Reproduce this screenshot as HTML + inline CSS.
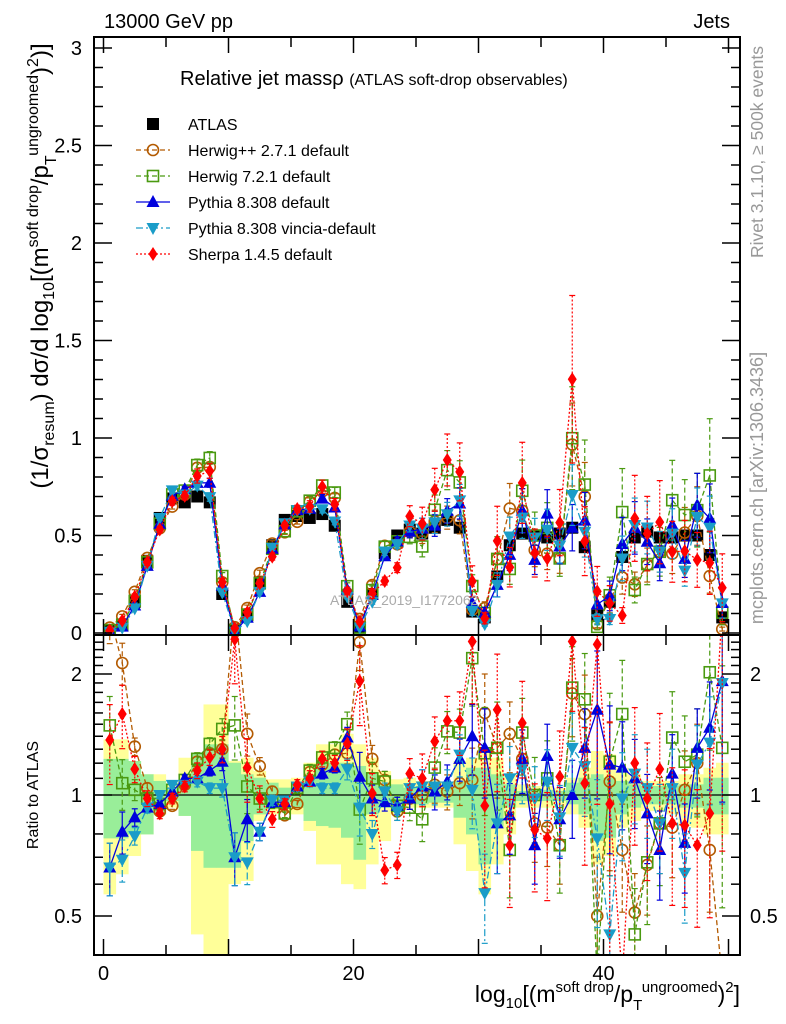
<!DOCTYPE html>
<html><head><meta charset="utf-8"><style>
html,body{margin:0;background:#fff;width:786px;height:1024px;overflow:hidden;}
svg{display:block;font-family:"Liberation Sans",sans-serif;}
</style></head><body>
<svg id="chart" width="786" height="1024" viewBox="0 0 786 1024" overflow="hidden">
<defs>
<clipPath id="cm"><rect x="94" y="37" width="646" height="598"/></clipPath>
<clipPath id="cr"><rect x="94" y="635" width="646" height="320"/></clipPath>
</defs>
<g id="bands" clip-path="url(#cr)"></g>
<g id="ratioMarks" clip-path="url(#cr)"></g>
<g id="mainMarks" clip-path="url(#cm)"></g>
<text x="330" y="605" font-size="14" fill="#aaa">ATLAS_2019_I1772062</text>
<g id="axes"></g>
<text x="104" y="28" font-size="20">13000 GeV pp</text>
<text x="730" y="28" font-size="20" text-anchor="end">Jets</text>
<text x="180" y="85" font-size="20">Relative jet massρ <tspan font-size="16">(ATLAS soft-drop observables)</tspan></text>
<g id="legend"></g>
<text transform="translate(763,152) rotate(-90)" font-size="17.5" fill="#999" text-anchor="middle">Rivet 3.1.10, ≥ 500k events</text>
<text transform="translate(763,488) rotate(-90)" font-size="18" fill="#999" text-anchor="middle">mcplots.cern.ch [arXiv:1306.3436]</text>
<text transform="translate(48,266) rotate(-90)" font-size="24" text-anchor="middle">(1/σ<tspan font-size="16" dy="6">resum</tspan><tspan dy="-6">) dσ/d log</tspan><tspan font-size="16" dy="6">10</tspan><tspan dy="-6">[(m</tspan><tspan font-size="16" dy="-10">soft drop</tspan><tspan dy="10">/p</tspan><tspan font-size="16" dy="8">T</tspan><tspan font-size="16" dy="-18">ungroomed</tspan><tspan dy="10">)</tspan><tspan font-size="16" dy="-10">2</tspan><tspan dy="10">)]</tspan></text>
<text transform="translate(38,795) rotate(-90)" font-size="16" text-anchor="middle">Ratio to ATLAS</text>
<text x="740" y="1002" font-size="23" text-anchor="end">log<tspan font-size="15" dy="6">10</tspan><tspan dy="-6">[(m</tspan><tspan font-size="15" dy="-10">soft drop</tspan><tspan dy="10">/p</tspan><tspan font-size="15" dy="8">T</tspan><tspan font-size="15" dy="-18">ungroomed</tspan><tspan dy="10">)</tspan><tspan font-size="15" dy="-10">2</tspan><tspan dy="10">]</tspan></text>
</svg>
<script>
const atlas=[0.01,0.04,0.16,0.37,0.59,0.69,0.67,0.70,0.67,0.20,0.01,0.09,0.26,0.45,0.58,0.60,0.59,0.61,0.55,0.16,0.03,0.20,0.41,0.50,0.53,0.51,0.54,0.58,0.54,0.11,0.08,0.29,0.45,0.51,0.50,0.49,0.51,0.54,0.44,0.09,0.16,0.39,0.49,0.52,0.49,0.49,0.50,0.50,0.40,0.08];
const rHpp=[2.8,2.13,1.32,1.04,0.91,0.94,1.06,1.21,1.27,1.30,3.0,1.42,1.18,1.02,0.89,0.95,1.14,1.19,1.26,1.27,2.4,1.23,1.09,0.91,0.98,1.0,1.06,1.02,1.07,1.09,1.60,1.31,1.42,1.23,0.85,0.83,0.75,1.79,1.59,0.50,1.08,0.73,0.51,0.67,0.85,0.83,1.03,1.20,0.73,0.25];
const rH7=[1.49,1.07,1.03,0.98,0.95,1.03,1.09,1.23,1.34,1.46,1.49,1.05,0.98,0.96,0.90,1.04,1.15,1.24,1.31,1.50,0.92,1.10,1.08,0.94,0.93,0.87,1.17,1.44,1.43,2.19,1.27,1.31,0.73,1.43,1.0,1.10,0.75,1.85,1.73,0.35,1.21,1.59,0.45,0.68,0.85,1.39,1.21,1.26,2.02,1.31];
const rPy=[0.66,0.81,0.88,0.93,0.95,1.02,1.10,1.10,1.15,1.21,0.70,0.87,0.81,0.96,0.96,1.05,1.08,1.13,1.17,1.39,1.11,0.98,0.96,0.94,0.98,1.05,1.02,1.08,1.23,1.40,1.31,0.85,0.89,1.23,0.75,1.25,0.87,1.0,1.31,1.63,1.19,1.17,1.10,0.90,0.73,1.13,0.76,1.31,1.47,1.92];
const rVin=[0.66,0.69,0.79,0.93,1.0,1.06,1.06,1.08,1.04,1.04,0.70,0.68,0.81,0.97,0.97,1.05,1.08,1.04,1.04,1.16,0.93,0.80,1.02,0.91,1.04,1.05,1.05,1.05,1.26,1.03,0.57,0.85,1.10,1.16,0.98,1.08,0.88,1.31,1.18,0.78,0.45,0.98,1.13,1.04,0.85,1.04,0.64,1.19,1.35,1.9];
const rSh=[1.37,1.59,1.16,0.98,0.90,0.98,1.05,1.15,1.24,1.30,2.44,1.17,0.98,0.87,0.95,1.06,1.10,1.23,1.20,1.34,1.92,1.01,0.65,0.67,1.13,1.10,1.36,1.53,1.53,2.41,0.94,1.63,0.75,1.51,0.82,0.78,1.11,2.41,1.07,2.37,0.95,0.23,1.20,0.98,1.16,0.85,0.84,0.75,0.90,2.9];
const mcRelErr=[0.15,0.12,0.05,0.03,0.02,0.02,0.02,0.03,0.03,0.05,0.15,0.12,0.05,0.03,0.02,0.02,0.03,0.03,0.03,0.06,0.15,0.08,0.05,0.05,0.06,0.1,0.1,0.1,0.12,0.2,0.25,0.25,0.2,0.18,0.2,0.2,0.2,0.22,0.25,0.4,0.4,0.3,0.25,0.25,0.25,0.25,0.25,0.25,0.3,0.5];
const errScale=[1,1.2,1,1,1.5];
const gHi=[1.23,1.23,1.215,1.126,1.084,1.043,1.084,1.274,1.337,1.337,1.203,1.126,1.104,1.073,1.043,1.063,1.126,1.227,1.203,1.203,1.181,1.136,1.063,1.063,1.043,1.053,1.043,1.043,1.084,1.169,1.169,1.126,1.063,1.023,1.03,1.03,1.023,1.073,1.104,1.126,1.104,1.084,1.063,1.053,1.053,1.053,1.063,1.063,1.104,1.104];
const gLo=[0.78,0.78,0.798,0.798,0.895,0.966,0.887,0.726,0.659,0.659,0.659,0.768,0.895,0.93,0.948,0.93,0.862,0.837,0.829,0.783,0.69,0.895,0.93,0.93,0.948,0.948,0.957,0.957,0.878,0.798,0.672,0.829,0.93,0.966,0.966,0.966,0.966,0.948,0.895,0.768,0.783,0.895,0.93,0.948,0.948,0.948,0.93,0.93,0.895,0.895];
const yHi=[1.375,1.375,1.215,1.126,1.126,1.06,1.238,1.274,1.68,1.68,1.215,1.238,1.147,1.094,1.094,1.104,1.203,1.337,1.337,1.42,1.337,1.238,1.147,1.094,1.104,1.084,1.084,1.073,1.215,1.238,1.311,1.238,1.126,1.063,1.053,1.053,1.04,1.104,1.169,1.287,1.262,1.169,1.126,1.084,1.084,1.084,1.126,1.126,1.169,1.203];
const yLo=[0.566,0.635,0.705,0.798,0.895,0.93,0.887,0.45,0.40,0.40,0.60,0.611,0.862,0.895,0.912,0.895,0.814,0.672,0.672,0.60,0.583,0.672,0.768,0.895,0.93,0.93,0.93,0.93,0.754,0.647,0.566,0.672,0.798,0.93,0.93,0.93,0.93,0.895,0.829,0.672,0.705,0.829,0.862,0.912,0.912,0.895,0.837,0.829,0.798,0.798];
const xTicks=[0,20,40];
const mainTicks=["0","0.5","1","1.5","2","2.5","3"];
const ratioTicks=["0.5","1","2"];

const NS="http://www.w3.org/2000/svg";
const X=v=>103.5+12.5*v;
const Ym=v=>633-195*Math.min(Math.max(v,-0.05),3.2);
const Yr=r=>795-121*Math.log2(Math.min(Math.max(r,0.35),3));
function mk(tag,attrs,parent){const e=document.createElementNS(NS,tag);for(const k in attrs)e.setAttribute(k,attrs[k]);parent.appendChild(e);return e;}
const bands=document.getElementById('bands');
atlas.forEach((a,i)=>{
  const r1=mk('rect',{x:X(i),y:Yr(yHi[i]),width:12.6,height:Yr(yLo[i])-Yr(yHi[i]),fill:'#ffff99'},bands);
  
  
});
atlas.forEach((a,i)=>{
  const r2=mk('rect',{x:X(i),y:Yr(gHi[i]),width:12.6,height:Yr(gLo[i])-Yr(gHi[i]),fill:'#99ee99'},bands);
  
  
});
const series=[
 {name:'herwigpp',r:rHpp,col:'#b35a00',dash:'5,3',mk:'circle',label:'Herwig++ 2.7.1 default'},
 {name:'herwig7',r:rH7,col:'#4a9a10',dash:'5,3',mk:'square',label:'Herwig 7.2.1 default'},
 {name:'pythia',r:rPy,col:'#0000dd',dash:'',mk:'tri',label:'Pythia 8.308 default'},
 {name:'vincia',r:rVin,col:'#1a9cc8',dash:'7,3,2,3',mk:'dtri',label:'Pythia 8.308 vincia-default'},
 {name:'sherpa',r:rSh,col:'#ff0000',dash:'2,2',mk:'diamond',label:'Sherpa 1.4.5 default'}];
function marker(g,type,x,y,col){
  let e;
  if(type==='circle')e=mk('circle',{cx:x,cy:y,r:5.5,fill:'none',stroke:col,'stroke-width':1.6},g);
  else if(type==='square')e=mk('rect',{x:x-5.5,y:y-5.5,width:11,height:11,fill:'none',stroke:col,'stroke-width':1.6},g);
  else if(type==='tri')e=mk('polygon',{points:`${x},${y-7} ${x-6.5},${y+5} ${x+6.5},${y+5}`,fill:col},g);
  else if(type==='dtri')e=mk('polygon',{points:`${x},${y+7} ${x-6.5},${y-5} ${x+6.5},${y-5}`,fill:col},g);
  else if(type==='diamond')e=mk('polygon',{points:`${x},${y-7} ${x-4.5},${y} ${x},${y+7} ${x+4.5},${y}`,fill:col},g);
  else e=mk('rect',{x:x-6,y:y-6,width:12,height:12,fill:col},g);
  return e;
}
function errbar(g,x,y1,y2,s){
  mk('line',{x1:x,x2:x,y1:y1,y2:y2,stroke:s.col,'stroke-width':1.2,'stroke-dasharray':s.dash},g);
  mk('line',{x1:x-3,x2:x+3,y1:y1,y2:y1,stroke:s.col,'stroke-width':1.2},g);
  mk('line',{x1:x-3,x2:x+3,y1:y2,y2:y2,stroke:s.col,'stroke-width':1.2},g);
}
const mainG=document.getElementById('mainMarks'), ratG=document.getElementById('ratioMarks');
mk('line',{x1:94,x2:740,y1:Yr(1),y2:Yr(1),stroke:'#000','stroke-width':1.3},ratG);
atlas.forEach((a,i)=>{const m=marker(mainG,'sq',X(i+0.5),Ym(a),'#000');

});
series.forEach((s,k)=>{
  const main=s.r.map((r,i)=>atlas[i]*r);
  main.forEach((v,i)=>{const e=mcRelErr[i]*errScale[k];
    errbar(mainG,X(i+0.5),Ym(v*(1+e)),Ym(v*(1-e)),s);
    errbar(ratG,X(i+0.5),Yr(s.r[i]*(1+e)),Yr(s.r[i]*Math.max(1-e,0.05)),s);});
  const pm=mk('polyline',{points:main.map((v,i)=>X(i+0.5)+','+Ym(v)).join(' '),fill:'none',stroke:s.col,'stroke-width':1.3,'stroke-dasharray':s.dash},mainG);
  
  
  const pr=mk('polyline',{points:s.r.map((v,i)=>X(i+0.5)+','+Yr(v)).join(' '),fill:'none',stroke:s.col,'stroke-width':1.3,'stroke-dasharray':s.dash},ratG);
  
  
  main.forEach((v,i)=>{const m=marker(mainG,s.mk,X(i+0.5),Ym(v),s.col);
    
    });
  s.r.forEach((v,i)=>{const m=marker(ratG,s.mk,X(i+0.5),Yr(v),s.col);
    
    });
});
const ax=document.getElementById('axes');
mk('rect',{x:94,y:37,width:646,height:918,fill:'none',stroke:'#000','stroke-width':2},ax);
mk('line',{x1:94,x2:740,y1:635,y2:635,stroke:'#000','stroke-width':2},ax);
for(let v=0;v<=51;v+=5){const L=v%10===0?16:10;
  mk('line',{x1:X(v),x2:X(v),y1:955,y2:955-L,stroke:'#000','stroke-width':1.5},ax);
  mk('line',{x1:X(v),x2:X(v),y1:635,y2:635-L,stroke:'#000','stroke-width':1.5},ax);
  mk('line',{x1:X(v),x2:X(v),y1:635,y2:635+L,stroke:'#000','stroke-width':1.5},ax);
  mk('line',{x1:X(v),x2:X(v),y1:37,y2:37+L,stroke:'#000','stroke-width':1.5},ax);}
xTicks.forEach(t=>{const e=mk('text',{x:X(t),y:980,'font-size':20,'text-anchor':'middle'},ax);e.textContent=t;
  
  });
for(let k=0;k<=30;k++){const v=k/10,L=k%5===0?18:9;
  mk('line',{x1:94,x2:94+L,y1:Ym(v),y2:Ym(v),stroke:'#000','stroke-width':1.5},ax);
  mk('line',{x1:740,x2:740-L,y1:Ym(v),y2:Ym(v),stroke:'#000','stroke-width':1.5},ax);}
mainTicks.forEach(t=>{const e=mk('text',{x:82,y:Ym(+t)+7,'font-size':20,'text-anchor':'end'},ax);e.textContent=t;
  
  });
for(let k=5;k<=24;k++){const v=k/10,L=(k===5||k===10||k===20)?18:9;
  mk('line',{x1:94,x2:94+L,y1:Yr(v),y2:Yr(v),stroke:'#000','stroke-width':1.5},ax);
  mk('line',{x1:740,x2:740-L,y1:Yr(v),y2:Yr(v),stroke:'#000','stroke-width':1.5},ax);}
ratioTicks.forEach(t=>{let e=mk('text',{x:82,y:Yr(+t)+7,'font-size':20,'text-anchor':'end'},ax);e.textContent=t;
  
  
  e=mk('text',{x:750,y:Yr(+t)+7,'font-size':20},ax);e.textContent=t;
  
  });
const lg=document.getElementById('legend');
let ly=124;
marker(lg,'sq',153,ly,'#000');
let t0=mk('text',{x:188,y:ly+6,'font-size':16},lg);t0.textContent='ATLAS';


series.forEach((s,k)=>{const y=ly+26*(k+1);
  mk('line',{x1:136,x2:170,y1:y,y2:y,stroke:s.col,'stroke-width':1.3,'stroke-dasharray':s.dash},lg);
  marker(lg,s.mk,153,y,s.col);
  const t=mk('text',{x:188,y:y+6,'font-size':16},lg);t.textContent=s.label;
  
  });
</script>
</body></html>
